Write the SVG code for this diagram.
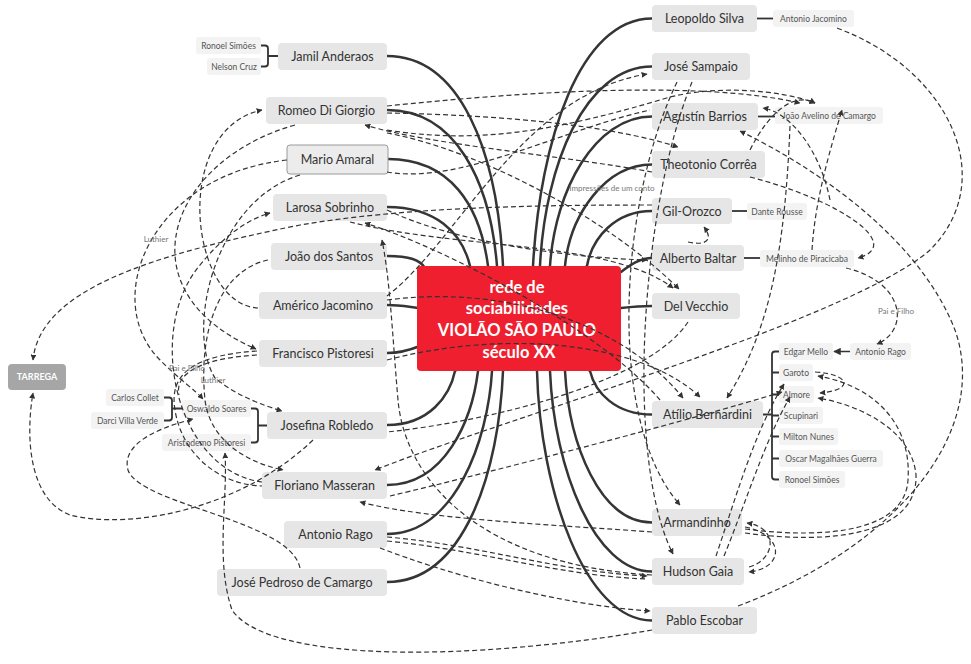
<svg xmlns="http://www.w3.org/2000/svg" width="971" height="664" viewBox="0 0 971 664">
<defs>
<marker id="arr" viewBox="0 0 10 10" refX="9" refY="5" markerWidth="5" markerHeight="5" orient="auto-start-reverse"><path d="M0,0 L10,5 L0,10 z" fill="#333"/></marker>
<style>
.main{fill:none;stroke:#353535;stroke-width:2.5;stroke-linecap:round}
.rel{fill:none;stroke:#333;stroke-width:1.2;stroke-dasharray:5 3}
.ra{marker-end:url(#arr)}
.sub{fill:none;stroke:#333;stroke-width:1.8}
.n rect{fill:#e6e6e6}
.n text{font-family:Lato,"Open Sans",sans-serif;font-size:12.5px;fill:#333;text-anchor:middle}
.s rect{fill:#f3f3f3}
.s text{font-family:Lato,"Open Sans",sans-serif;font-size:8.5px;fill:#555;text-anchor:middle}
.lbl{font-family:Lato,"Open Sans",sans-serif;font-size:8px;fill:#777;text-anchor:middle}
</style>
</defs>
<rect width="971" height="664" fill="#fff"/>
<g id="main-connectors">
<path class="main" d="M387 56 C460 56 497 150 503 266 L519 318"/>
<path class="main" d="M387 110 C455 110 490 180 497 266 L519 318"/>
<path class="main" d="M388 159 C450 159 480 205 488 266 L519 318"/>
<path class="main" d="M387 207 C435 207 462 232 470 266 L519 318"/>
<path class="main" d="M387 256 C410 256 420 260 425 268 L519 318"/>
<path class="main" d="M387 305 C400 305 410 307 420 308 L519 318"/>
<path class="main" d="M387 353 C400 353 410 350 420 346 L519 318"/>
<path class="main" d="M387 425 C430 425 450 395 455 371 L519 318"/>
<path class="main" d="M387 485 C445 485 472 420 478 371 L519 318"/>
<path class="main" d="M387 534 C455 534 488 440 492 371 L519 318"/>
<path class="main" d="M387 582 C465 582 499 470 503 371 L519 318"/>
<path class="main" d="M652 18.5 C580 18.5 540 140 533 266 L519 318"/>
<path class="main" d="M652 66.5 C585 66.5 545 165 540 266 L519 318"/>
<path class="main" d="M652 116.5 C595 116.5 555 190 550 266 L519 318"/>
<path class="main" d="M652 164.5 C605 164.5 570 215 565 266 L519 318"/>
<path class="main" d="M652 211 C615 211 592 238 587 266 L519 318"/>
<path class="main" d="M652 258 C640 258 630 265 621 272 L519 318"/>
<path class="main" d="M652 306 C640 306 630 307 621 308 L519 318"/>
<path class="main" d="M652 414.5 C615 414.5 595 392 590 371 L519 318"/>
<path class="main" d="M652 522.5 C600 522.5 569 445 565 371 L519 318"/>
<path class="main" d="M652 571.5 C595 571.5 554 470 550 371 L519 318"/>
<path class="main" d="M652 620.5 C585 620.5 540 490 537 371 L519 318"/>
<path class="sub" d="M757 18.5 L773 18.5"/>
<path class="sub" d="M758 116.5 L775 116.5"/>
<path class="sub" d="M732 211 L747 211"/>
<path class="sub" d="M744 258 L760 258"/>
<path class="sub" d="M278 56 L268 56 M261 45.5 L265 45.5 Q268 45.5 268 48.5 L268 63.5 Q268 66.5 265 66.5 L261 66.5"/>
<path class="sub" d="M763 414.5 L772 414.5 M779 351.5 L775 351.5 Q772 351.5 772 354.5 L772 476.5 Q772 479.5 775 479.5 L779 479.5 M772 372.5 L779 372.5 M772 394.5 L779 394.5 M772 415.5 L779 415.5 M772 436.5 L779 436.5 M772 458.5 L779 458.5"/>
<path class="sub" d="M267 425.5 L258 425.5 M251 408.5 L255 408.5 Q258 408.5 258 411.5 L258 439.5 Q258 442.5 255 442.5 L251 442.5"/>
<path class="sub" d="M182 408.5 L172 408.5 M164 397.5 L169 397.5 Q172 397.5 172 400.5 L172 417.5 Q172 420.5 169 420.5 L164 420.5"/>
</g>
<g id="center">
<rect x="417" y="266" width="204" height="105" rx="4" fill="#ef1f2f"/>
<text font-family="Lato,'Open Sans',sans-serif" font-size="16.5" font-weight="bold" fill="#fff" text-anchor="middle">
<tspan x="519" y="293">rede de</tspan>
<tspan x="519" y="314">sociabilidades</tspan>
<tspan x="519" y="336">VIOLÃO SÃO PAULO</tspan>
<tspan x="519" y="358">século XX</tspan>
</text>
</g>
<g id="n-jamil" class="n"><rect x="278" y="43" width="109" height="27" rx="4"/><text x="332.5" y="61">Jamil Anderaos</text></g>
<g id="n-romeo" class="n"><rect x="266" y="97" width="121" height="27" rx="4"/><text x="326.5" y="115">Romeo Di Giorgio</text></g>
<g id="n-mario" class="n"><rect x="287" y="145" width="101" height="29" rx="3" style="fill:#ececec;stroke:#9a9a9a;stroke-width:1"/><text x="337.5" y="164">Mario Amaral</text></g>
<g id="n-larosa" class="n"><rect x="273" y="194" width="114" height="27" rx="4"/><text x="330" y="212">Larosa Sobrinho</text></g>
<g id="n-joao" class="n"><rect x="271" y="243" width="116" height="27" rx="4"/><text x="329" y="261">João dos Santos</text></g>
<g id="n-americo" class="n"><rect x="259" y="292" width="128" height="27" rx="4"/><text x="323" y="310">Américo Jacomino</text></g>
<g id="n-francisco" class="n"><rect x="259" y="340" width="128" height="27" rx="4"/><text x="323" y="358">Francisco Pistoresi</text></g>
<g id="n-josefina" class="n"><rect x="267" y="412" width="120" height="27" rx="4"/><text x="327" y="430">Josefina Robledo</text></g>
<g id="n-floriano" class="n"><rect x="262" y="472" width="125" height="27" rx="4"/><text x="324.5" y="490">Floriano Masseran</text></g>
<g id="n-antoniorago" class="n"><rect x="284" y="521" width="103" height="27" rx="4"/><text x="335.5" y="539">Antonio Rago</text></g>
<g id="n-josepedroso" class="n"><rect x="217" y="569" width="170" height="27" rx="4"/><text x="302" y="587">José Pedroso de Camargo</text></g>
<g id="n-leopoldo" class="n"><rect x="652" y="5" width="105" height="27" rx="4"/><text x="704.5" y="23">Leopoldo Silva</text></g>
<g id="n-josesampaio" class="n"><rect x="652" y="53" width="98" height="27" rx="4"/><text x="701" y="71">José Sampaio</text></g>
<g id="n-agustin" class="n"><rect x="652" y="103" width="106" height="27" rx="4"/><text x="705" y="121">Agustín Barrios</text></g>
<g id="n-theotonio" class="n"><rect x="652" y="151" width="113" height="27" rx="4"/><text x="708.5" y="169">Theotonio Corrêa</text></g>
<g id="n-gilorozco" class="n"><rect x="652" y="198" width="80" height="26" rx="4"/><text x="692" y="215.5">Gil-Orozco</text></g>
<g id="n-alberto" class="n"><rect x="652" y="245" width="92" height="26" rx="4"/><text x="698" y="262.5">Alberto Baltar</text></g>
<g id="n-delvecchio" class="n"><rect x="652" y="293" width="88" height="26" rx="4"/><text x="696" y="310.5">Del Vecchio</text></g>
<g id="n-atilio" class="n"><rect x="652" y="401" width="111" height="27" rx="4"/><text x="707.5" y="419">Atílio Bernardini</text></g>
<g id="n-armandinho" class="n"><rect x="652" y="509" width="90" height="27" rx="4"/><text x="697" y="527">Armandinho</text></g>
<g id="n-hudson" class="n"><rect x="652" y="558" width="92" height="27" rx="4"/><text x="698" y="576">Hudson Gaia</text></g>
<g id="n-pablo" class="n"><rect x="652" y="607" width="105" height="27" rx="4"/><text x="704.5" y="625">Pablo Escobar</text></g>
<g id="s-ronoel1" class="s"><rect x="196" y="37" width="65" height="17" rx="3"/><text x="228.5" y="48.5">Ronoel Simões</text></g>
<g id="s-nelson" class="s"><rect x="207" y="58" width="54" height="17" rx="3"/><text x="234" y="69.5">Nelson Cruz</text></g>
<g id="s-antoniojacomino" class="s"><rect x="773" y="10" width="81" height="17" rx="3"/><text x="813.5" y="21.5">Antonio Jacomino</text></g>
<g id="s-joaoavelino" class="s"><rect x="775" y="107" width="108" height="17" rx="3"/><text x="829" y="118.5">João Avelino de Camargo</text></g>
<g id="s-dante" class="s"><rect x="747" y="203" width="60" height="17" rx="3"/><text x="777" y="214.5">Dante Rousse</text></g>
<g id="s-melinho" class="s"><rect x="760" y="250" width="94" height="17" rx="3"/><text x="807" y="261.5">Melinho de Piracicaba</text></g>
<g id="s-edgar" class="s"><rect x="779" y="343" width="54" height="17" rx="3"/><text x="806" y="354.5">Edgar Mello</text></g>
<g id="s-antoniorago2" class="s"><rect x="850" y="343" width="61" height="17" rx="3"/><text x="880.5" y="354.5">Antonio Rago</text></g>
<g id="s-garoto" class="s"><rect x="779" y="364" width="34" height="17" rx="3"/><text x="796" y="375.5">Garoto</text></g>
<g id="s-almore" class="s"><rect x="779" y="386" width="35" height="17" rx="3"/><text x="796.5" y="397.5">Almore</text></g>
<g id="s-scupinari" class="s"><rect x="779" y="407" width="44" height="17" rx="3"/><text x="801" y="418.5">Scupinari</text></g>
<g id="s-milton" class="s"><rect x="779" y="428" width="59" height="17" rx="3"/><text x="808.5" y="439.5">Milton Nunes</text></g>
<g id="s-oscar" class="s"><rect x="779" y="450" width="104" height="17" rx="3"/><text x="831" y="461.5">Oscar Magalhães Guerra</text></g>
<g id="s-ronoel2" class="s"><rect x="779" y="471" width="66" height="17" rx="3"/><text x="812" y="482.5">Ronoel Simões</text></g>
<g id="s-carlos" class="s"><rect x="106" y="389" width="58" height="17" rx="3"/><text x="135" y="400.5">Carlos Collet</text></g>
<g id="s-darci" class="s"><rect x="91" y="412" width="73" height="17" rx="3"/><text x="127.5" y="423.5">Darci Villa Verde</text></g>
<g id="s-oswaldo" class="s"><rect x="182" y="400" width="69" height="17" rx="3"/><text x="216.5" y="411.5">Oswaldo Soares</text></g>
<g id="s-aristodemo" class="s"><rect x="162" y="434" width="89" height="17" rx="3"/><text x="206.5" y="445.5">Aristodemo Pistoresi</text></g>
<g id="n-tarrega"><rect x="8" y="364" width="58" height="26" rx="4" fill="#a6a6a6"/><text x="37" y="380" font-family="Lato,'Open Sans',sans-serif" font-size="9" font-weight="bold" fill="#fff" text-anchor="middle">TARREGA</text></g>
<g id="relationships">
<path class="rel ra" d="M258 308 C190 305 170 130 262 110"/>
<path class="rel ra" d="M295 125 C170 160 120 290 256 349"/>
<path class="rel ra" d="M287 160 C150 175 100 300 160 360 C180 380 195 390 203 399"/>
<path class="rel ra" d="M652 205 C520 205 400 208 300 225 C150 255 40 290 33 360"/>
<path class="rel ra" d="M313 440 C240 510 130 530 70 515 C30 500 25 440 33 393"/>
<path class="rel ra" d="M300 568 C290 520 140 505 128 470 C120 440 170 425 193 419"/>
<path class="rel ra" d="M652 630 C480 660 270 665 232 610 C215 560 228 500 225 453"/>
<path class="rel" d="M257 351 C200 355 168 370 175 410 C182 455 220 485 262 486"/>
<path class="rel" d="M257 355 C205 358 174 372 179 395"/>
<path class="rel ra" d="M262 482 C175 470 145 330 200 265 C220 240 245 220 270 213"/>
<path class="rel ra" d="M268 260 C220 270 198 330 205 400 C210 440 245 462 283 470"/>
<path class="rel ra" d="M300 175 C215 200 185 330 215 378 C235 395 262 405 282 411"/>
<path class="rel ra" d="M652 575 C480 565 405 480 398 400 C392 330 390 280 382 240"/>
<path class="rel ra" d="M837 28 C950 70 1000 180 930 250 C850 320 500 420 375 470"/>
<path class="rel ra" d="M652 532 C560 525 430 520 360 502"/>
<path class="rel ra" d="M387 537 C480 545 560 572 647 576"/>
<path class="rel" d="M387 541 C480 550 560 576 647 579"/>
<path class="rel ra" d="M380 548 C450 575 560 605 650 611"/>
<path class="rel ra" d="M750 177 C840 200 905 245 858 258"/>
<path class="rel ra" d="M846 268 C905 282 910 330 877 344"/>
<path fill="none" stroke="#333" stroke-width="1.5" marker-end="url(#arr)" d="M850 351.5 L834 351.5"/>
<path class="rel ra" d="M812 250 C815 200 830 150 842 110"/>
<path class="rel ra" d="M738 606 C900 545 990 430 955 330 C920 240 820 170 740 131"/>
<path class="rel ra" d="M745 529 C830 540 905 530 908 480 C912 420 870 385 818 376"/>
<path class="rel ra" d="M745 533 C830 545 918 535 916 475 C912 430 860 405 818 398"/>
<path class="rel ra" d="M815 372 C850 374 855 390 820 393"/>
<path class="rel ra" d="M716 556 C735 500 755 430 784 384"/>
<path class="rel ra" d="M724 556 C745 505 765 440 790 397"/>
<path class="rel ra" d="M745 527 C785 535 785 568 749 572"/>
<path class="rel ra" d="M749 567 C775 560 780 528 747 523"/>
<path class="rel ra" d="M390 496 C500 470 690 420 782 392"/>
<path class="rel ra" d="M750 150 C770 110 795 92 815 103"/>
<path class="rel ra" d="M830 200 C820 150 790 112 763 108"/>
<path class="rel ra" d="M350 222 C460 250 610 240 673 288"/>
<path class="rel ra" d="M387 133 C480 150 610 220 679 289"/>
<path class="rel ra" d="M387 210 C460 245 580 258 647 260"/>
<path class="rel ra" d="M688 242 C706 246 714 240 704 227"/>
<path class="rel ra" d="M677 82 C620 200 605 420 680 505"/>
<path class="rel ra" d="M692 82 C640 210 625 460 673 554"/>
<path class="rel ra" d="M790 126 C785 250 770 330 727 398"/>
<path class="rel ra" d="M387 300 C500 285 620 320 683 398"/>
<path class="rel ra" d="M387 360 C500 330 640 340 700 397"/>
<path class="rel ra" d="M660 400 C600 330 450 250 365 223"/>
<path class="rel ra" d="M652 172 C560 155 430 145 365 125"/>
<path class="rel ra" d="M387 296 C460 240 520 95 647 74"/>
<path class="rel ra" d="M387 106 C520 92 700 80 800 103"/>
<path class="rel ra" d="M387 130 C480 145 560 130 670 97 C720 85 780 90 815 103"/>
<path class="rel" d="M387 172 C460 185 560 130 650 110"/>
<path class="rel ra" d="M387 113 C500 115 610 125 678 147"/>
<path class="rel" d="M688 322 C650 380 500 420 387 432"/>
<text class="lbl" x="156" y="242">Luthier</text>
<text class="lbl" x="187" y="371">Pai e Filho</text>
<text class="lbl" x="213" y="383">Luthier</text>
<text class="lbl" x="612" y="191">Impressões de um conto</text>
<text class="lbl" x="896" y="314">Pai e Filho</text>
</g>
</svg>
